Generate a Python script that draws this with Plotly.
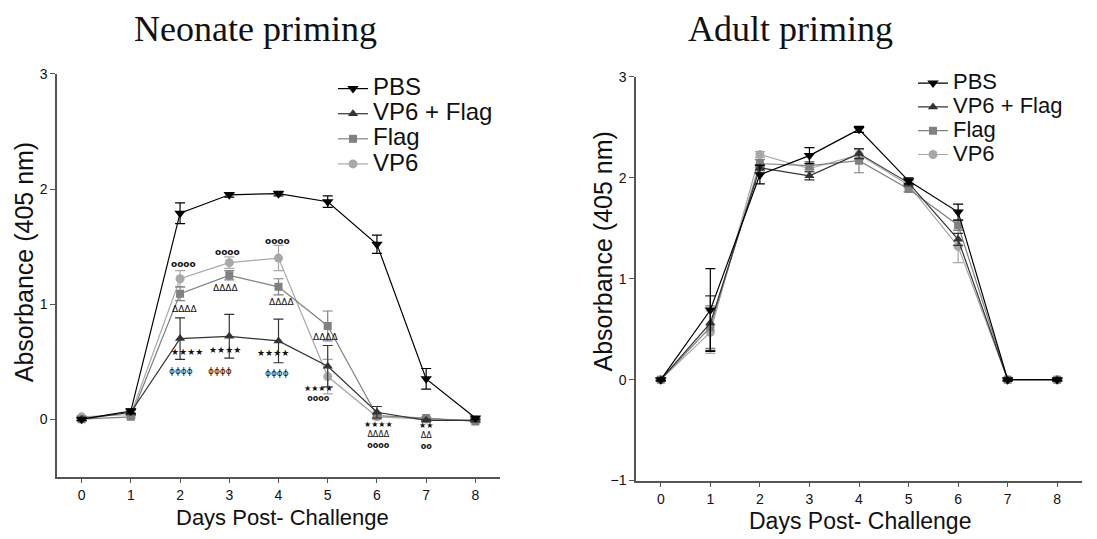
import plotly.graph_objects as go

days = [0, 1, 2, 3, 4, 5, 6, 7, 8]
series_names = ["PBS", "VP6 + Flag", "Flag", "VP6"]

# Neonate priming
neo_pbs = [0.00, 0.07, 1.79, 1.95, 1.96, 1.89, 1.52, 0.35, 0.01]
neo_pbs_err = [0.01, 0.02, 0.09, 0.02, 0.02, 0.05, 0.08, 0.09, 0.01]
neo_vf = [0.00, 0.06, 0.70, 0.72, 0.68, 0.46, 0.06, -0.01, -0.01]
neo_vf_err = [0.01, 0.02, 0.18, 0.19, 0.19, 0.18, 0.05, 0.01, 0.01]
neo_flag = [0.00, 0.02, 1.09, 1.25, 1.15, 0.81, 0.03, 0.01, -0.02]
neo_flag_err = [0.01, 0.01, 0.06, 0.04, 0.07, 0.13, 0.02, 0.01, 0.01]
neo_vp6 = [0.02, 0.04, 1.22, 1.36, 1.40, 0.37, 0.02, 0.00, -0.01]
neo_vp6_err = [0.01, 0.01, 0.07, 0.05, 0.11, 0.15, 0.02, 0.01, 0.01]

# Adult priming
ad_pbs = [0.00, 0.69, 2.03, 2.22, 2.48, 1.97, 1.66, 0.00, 0.00]
ad_pbs_err = [0.01, 0.41, 0.09, 0.08, 0.03, 0.03, 0.08, 0.01, 0.01]
ad_vf = [0.00, 0.56, 2.10, 2.02, 2.24, 1.95, 1.39, 0.00, 0.00]
ad_vf_err = [0.01, 0.27, 0.03, 0.04, 0.05, 0.03, 0.06, 0.01, 0.01]
ad_flag = [0.00, 0.52, 2.14, 2.12, 2.17, 1.89, 1.53, 0.00, 0.00]
ad_flag_err = [0.01, 0.21, 0.04, 0.04, 0.12, 0.03, 0.05, 0.01, 0.01]
ad_vp6 = [0.00, 0.47, 2.23, 2.09, 2.23, 1.93, 1.32, 0.00, 0.00]
ad_vp6_err = [0.01, 0.21, 0.03, 0.03, 0.05, 0.03, 0.16, 0.01, 0.01]

# Significance labels (neonate panel): text lines, day, value
sig_text = [["oooo"], ["ΔΔΔΔ"], ["★★★★"], ["ϕϕϕϕ"],
            ["oooo"], ["ΔΔΔΔ"], ["★★★★"], ["ϕϕϕϕ"],
            ["oooo"], ["ΔΔΔΔ"], ["★★★★"], ["ϕϕϕϕ"],
            ["ΔΔΔΔ"], ["★★★★", "oooo"],
            ["★★★★", "ΔΔΔΔ", "oooo"],
            ["★★", "ΔΔ", "oo"]]
sig_x = [2.07, 2.09, 2.15, 2.01,
         2.96, 2.92, 2.92, 2.82,
         3.98, 4.06, 3.88, 3.96,
         4.95, 4.81,
         6.03,
         7.0]
sig_y = [1.35, 0.96, 0.58, 0.42,
         1.45, 1.14, 0.60, 0.42,
         1.55, 1.02, 0.575, 0.40,
         0.71, 0.22,
         -0.135,
         -0.15]

styles = {
    "PBS": dict(color="#000000", symbol="triangle-down", size=10),
    "VP6 + Flag": dict(color="#333333", symbol="triangle-up", size=9),
    "Flag": dict(color="#808080", symbol="square", size=8),
    "VP6": dict(color="#a8a8a8", symbol="circle", size=9),
}

fig = go.Figure()


def add_panel(vals, errs, xa, ya, legend, label_px):
    for name in reversed(series_names):
        st = styles[name]
        fig.add_trace(go.Scatter(
            x=days, y=vals[name], mode="lines+markers",
            name="<span style='font-size:%dpx'>%s</span>" % (label_px, name),
            xaxis=xa, yaxis=ya, legend=legend,
            line=dict(color=st["color"], width=1.2),
            marker=dict(color=st["color"], symbol=st["symbol"], size=st["size"]),
            error_y=dict(type="data", array=errs[name], visible=True,
                         color=st["color"], thickness=1.2, width=5),
        ))


add_panel({"PBS": neo_pbs, "VP6 + Flag": neo_vf, "Flag": neo_flag, "VP6": neo_vp6},
          {"PBS": neo_pbs_err, "VP6 + Flag": neo_vf_err, "Flag": neo_flag_err, "VP6": neo_vp6_err},
          "x", "y", "legend", 24)
add_panel({"PBS": ad_pbs, "VP6 + Flag": ad_vf, "Flag": ad_flag, "VP6": ad_vp6},
          {"PBS": ad_pbs_err, "VP6 + Flag": ad_vf_err, "Flag": ad_flag_err, "VP6": ad_vp6_err},
          "x2", "y2", "legend2", 22)

W, H = 1097, 539
axis_common = dict(showline=True, linecolor="#555555", linewidth=1.5, showgrid=False,
                   zeroline=False, ticks="outside", ticklen=5, tickcolor="#555555",
                   tickwidth=1.2, tickfont=dict(family="Arial, Liberation Sans", size=14, color="#111"))

fig.update_layout(
    width=W, height=H, margin=dict(l=0, r=0, t=0, b=0),
    paper_bgcolor="white", plot_bgcolor="white",
    xaxis=dict(domain=[57 / W, 500 / W], range=[-0.5, 8.5], tickvals=days, anchor="y", **axis_common),
    yaxis=dict(domain=[1 - 483 / H, 1 - 68 / H], range=[-0.5, 3], tickvals=[0, 1, 2, 3], anchor="x", **axis_common),
    xaxis2=dict(domain=[636 / W, 1082 / W], range=[-0.5, 8.5], tickvals=days, anchor="y2", **axis_common),
    yaxis2=dict(domain=[1 - 487 / H, 1 - 71 / H], range=[-1, 3], tickvals=[-1, 0, 1, 2, 3], anchor="x2", **axis_common),
    legend=dict(x=333 / W, y=1 - 65 / H, xanchor="left", yanchor="top", traceorder="reversed",
                bgcolor="rgba(0,0,0,0)", font=dict(family="Arial, Liberation Sans", size=17, color="#111")),
    legend2=dict(x=913 / W, y=1 - 60 / H, xanchor="left", yanchor="top", traceorder="reversed",
                 bgcolor="rgba(0,0,0,0)", font=dict(family="Arial, Liberation Sans", size=16, color="#111")),
    showlegend=True,
)

ann = []
# titles
ann.append(dict(text="Neonate priming", x=255 / W, y=1 - 22 / H, xref="paper", yref="paper",
                showarrow=False, xanchor="center", yanchor="middle",
                font=dict(family="Liberation Serif, Times New Roman", size=36, color="#111")))
ann.append(dict(text="Adult priming", x=790 / W, y=1 - 22 / H, xref="paper", yref="paper",
                showarrow=False, xanchor="center", yanchor="middle",
                font=dict(family="Liberation Serif, Times New Roman", size=36, color="#111")))
# axis titles
for (tx, x, y, ang, fs) in [("Absorbance (405 nm)", 24, 262, -90, 25),
                            ("Absorbance (405 nm)", 603, 251, -90, 25),
                            ("Days Post- Challenge", 282, 525, 0, 22),
                            ("Days Post- Challenge", 860, 529, 0, 23)]:
    ann.append(dict(text=tx, x=x / W, y=1 - y / H, xref="paper", yref="paper", textangle=ang,
                    showarrow=False, xanchor="center", yanchor="middle", borderpad=0,
                    font=dict(family="Arial, Liberation Sans", size=fs, color="#111")))


# significance marks
def fmt(line):
    if line.startswith("o"):
        return "<b>" + line + "</b>"
    return line


for lines, x, y in zip(sig_text, sig_x, sig_y):
    size = 8 if len(lines) > 1 else 9
    ann.append(dict(text="<br>".join(fmt(l) for l in lines), x=x, y=y, xref="x", yref="y",
                    showarrow=False, xanchor="center", yanchor="middle",
                    font=dict(family="DejaVu Sans", size=size, color="#111")))

fig.update_layout(annotations=ann)
fig.write_html("out.html")
